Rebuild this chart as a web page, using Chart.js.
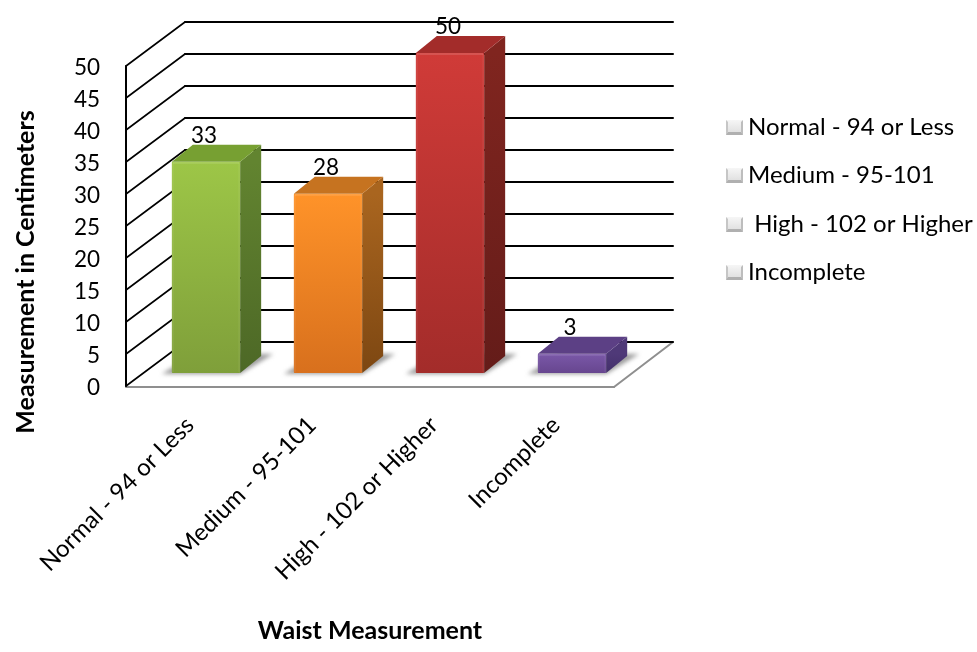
<!DOCTYPE html>
<html>
<head>
<meta charset="utf-8">
<title>Waist Measurement</title>
<script src="https://cdn.jsdelivr.net/npm/chart.js@4"></script>
<style>
  html, body { margin: 0; padding: 0; background: #fff; }
  canvas { display: block; }
</style>
</head>
<body>
<canvas id="chart" width="977" height="652"></canvas>
<script>
// Chart contents
const categories = ['Normal - 94 or Less', 'Medium - 95-101', 'High - 102 or Higher', 'Incomplete'];
const legendLabels = ['Normal - 94 or Less', 'Medium - 95-101', ' High - 102 or Higher', 'Incomplete'];
const values = [33, 28, 50, 3];
const valueMax = 50;
const valueStep = 5;
const xTitle = 'Waist Measurement';
const yTitle = 'Measurement in Centimeters';

// Shades per bar: front top, front bottom, side top, side bottom, cap
const shades = [
  ['#9dc647', '#7f9f3a', '#628430', '#4d6826', '#77a032'],
  ['#ff9329', '#d8701d', '#a9651f', '#7d4712', '#c67320'],
  ['#d03b38', '#a32c2a', '#80251f', '#641c19', '#a32c2a'],
  ['#7a58a8', '#67468f', '#4f3978', '#43306a', '#5c4085']
];

const FONT = 'Lato, Carlito, sans-serif';
const NUMBER_SIZE = 22.5;
const WORD_SIZE = 24;

// Offsets of the 3D box around the plane the bars stand on
const FRONT_DX = -19, FRONT_DY = 13;
const WALL_DX = 59, WALL_DY = -44;
const BAR_DX = 21, BAR_DY = -17;

function poly(ctx, pts, fill) {
  ctx.beginPath();
  pts.forEach((p, i) => i ? ctx.lineTo(p[0], p[1]) : ctx.moveTo(p[0], p[1]));
  ctx.closePath();
  ctx.fillStyle = fill;
  ctx.fill();
}

function seg(ctx, x1, y1, x2, y2, color, w) {
  ctx.beginPath();
  ctx.moveTo(x1, y1);
  ctx.lineTo(x2, y2);
  ctx.strokeStyle = color;
  ctx.lineWidth = w;
  ctx.stroke();
}

const box3d = {
  id: 'box3d',
  beforeDatasetsDraw(chart) {
    const { ctx, chartArea: a, scales: { y } } = chart;
    const fx0 = a.left + FRONT_DX;
    const fx1 = a.right + FRONT_DX;
    ctx.save();
    ctx.lineCap = 'round';
    ctx.lineJoin = 'round';

    // floor edges
    const fy0 = y.getPixelForValue(0) + FRONT_DY;
    seg(ctx, fx0, fy0 + 1, fx1, fy0 + 1, '#8f8f8f', 2);
    seg(ctx, fx1, fy0 + 1, fx1 + WALL_DX, fy0 + WALL_DY, '#8f8f8f', 2);

    // grid lines running along the left wall and the back wall
    for (let v = 0; v <= valueMax; v += valueStep) {
      const py = y.getPixelForValue(v) + FRONT_DY;
      seg(ctx, fx0, py, fx0 + WALL_DX, py + WALL_DY, '#000', 1.6);
      seg(ctx, fx0 + WALL_DX, py + WALL_DY, fx1 + WALL_DX, py + WALL_DY, '#000', 2);
    }
    seg(ctx, fx0, y.getPixelForValue(valueMax) + FRONT_DY, fx0, fy0, '#000', 2);

    // soft shadows on the floor
    const meta = chart.getDatasetMeta(0);
    ctx.filter = 'blur(2px)';
    meta.data.forEach(bar => {
      const l = bar.x - bar.width / 2, r = bar.x + bar.width / 2, b = bar.base;
      poly(ctx, [[l - 10, b + 1], [r, b + 1], [r + 33, b - 19], [l + 22, b - 19]], '#9c9c9c');
    });
    ctx.filter = 'none';
    ctx.restore();
  },
  afterDatasetsDraw(chart) {
    const { ctx } = chart;
    const meta = chart.getDatasetMeta(0);
    ctx.save();
    ctx.lineJoin = 'round';
    meta.data.forEach((bar, i) => {
      const l = bar.x - bar.width / 2, r = bar.x + bar.width / 2;
      const t = bar.y, b = bar.base;
      const s = shades[i];
      const g = ctx.createLinearGradient(0, t, 0, b);
      g.addColorStop(0, s[2]);
      g.addColorStop(1, s[3]);
      poly(ctx, [[r, t], [r + BAR_DX, t + BAR_DY], [r + BAR_DX, b + BAR_DY], [r, b]], g);
      poly(ctx, [[l, t], [l + BAR_DX, t + BAR_DY], [r + BAR_DX, t + BAR_DY], [r, t]], s[4]);

      // bevel: pale rim along the front face's top and side edges
      seg(ctx, l + 1, t + 1, r - 1, t + 1, 'rgba(255,255,255,0.13)', 2);
      seg(ctx, l + 1, t + 1, l + 1, b - 1, 'rgba(255,255,255,0.06)', 2);
      seg(ctx, r - 1, t + 1, r - 1, b - 1, 'rgba(255,255,255,0.05)', 2);

      ctx.fillStyle = '#000';
      ctx.font = NUMBER_SIZE + 'px ' + FONT;
      ctx.textAlign = 'center';
      ctx.textBaseline = 'middle';
      ctx.fillText(String(values[i]), bar.x - 2, t - 26);
    });

    // axis titles
    ctx.fillStyle = '#000';
    ctx.font = 'bold 25px ' + FONT;
    ctx.textAlign = 'center';
    ctx.textBaseline = 'middle';
    ctx.fillText(xTitle, 370, 631);
    ctx.save();
    ctx.translate(26, 272);
    ctx.rotate(-Math.PI / 2);
    ctx.fillText(yTitle, 0, 0);
    ctx.restore();

    // legend with its bevelled swatches
    const rowY = [127, 175, 224, 272];
    legendLabels.forEach((text, i) => {
      const x = 726, y = rowY[i] - 7, w = 17, h = 15;
      const face = ctx.createLinearGradient(0, y, 0, y + h);
      face.addColorStop(0, '#f6f6f6');
      face.addColorStop(1, '#dcdcdc');
      ctx.fillStyle = face;
      ctx.fillRect(x, y, w, h);
      poly(ctx, [[x, y], [x + 2, y + 2], [x + 2, y + h - 3], [x, y + h]], '#c6c6c6');
      poly(ctx, [[x + w, y], [x + w - 2, y + 2], [x + w - 2, y + h - 3], [x + w, y + h]], '#bdbdbd');
      poly(ctx, [[x, y + h], [x + 2, y + h - 3], [x + w - 2, y + h - 3], [x + w, y + h]], '#b0b0b0');
      ctx.fillStyle = '#000';
      ctx.font = WORD_SIZE + 'px ' + FONT;
      ctx.textAlign = 'left';
      ctx.textBaseline = 'middle';
      ctx.fillText(text, 748, rowY[i]);
    });
    ctx.restore();
  }
};

new Chart(document.getElementById('chart'), {
  type: 'bar',
  data: {
    labels: categories,
    datasets: [{
      data: values,
      categoryPercentage: 1,
      barPercentage: 0.56,
      borderRadius: 1,
      borderSkipped: false,
      backgroundColor(c) {
        const { ctx, scales } = c.chart;
        if (c.dataIndex === undefined || !scales.y) return '#888';
        const top = scales.y.getPixelForValue(values[c.dataIndex]);
        const bottom = scales.y.getPixelForValue(0);
        // the scale has no pixel range until the first layout has run
        if (!Number.isFinite(top) || !Number.isFinite(bottom)) return shades[c.dataIndex][0];
        const s = shades[c.dataIndex];
        const g = ctx.createLinearGradient(0, top, 0, bottom);
        g.addColorStop(0, s[0]);
        g.addColorStop(1, s[1]);
        return g;
      }
    }]
  },
  options: {
    responsive: false,
    animation: false,
    layout: { padding: { top: 53, right: 344, left: 0, bottom: 0 } },
    plugins: { legend: { display: false }, tooltip: { enabled: false } },
    scales: {
      x: {
        grid: { display: false, drawTicks: false },
        border: { display: false },
        afterFit(scale) { scale.height = 279; },
        ticks: {
          autoSkip: false,
          minRotation: 45,
          maxRotation: 45,
          padding: 38,
          labelOffset: -16,
          color: '#000',
          font: { family: FONT, size: WORD_SIZE }
        }
      },
      y: {
        min: 0,
        max: valueMax,
        grid: { display: false, drawTicks: false },
        border: { display: false },
        // the wide tick padding only moves the labels; it must not push the plot area down
        afterFit(scale) {
          scale.width = 145;
          scale.paddingTop = 0;
          scale.paddingBottom = 0;
        },
        ticks: {
          stepSize: valueStep,
          padding: 45,
          labelOffset: FRONT_DY + 2,
          color: '#000',
          font: { family: FONT, size: NUMBER_SIZE }
        }
      }
    }
  },
  plugins: [box3d]
});
</script>
</body>
</html>
